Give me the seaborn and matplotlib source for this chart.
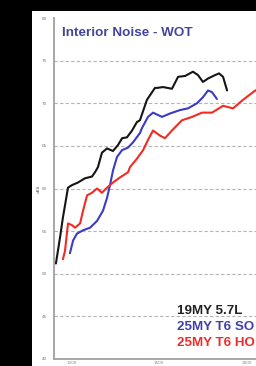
import pandas as pd
import seaborn as sns
import matplotlib.pyplot as plt
from matplotlib.patches import Rectangle

# values (engine speed rpm, interior noise dBA)
black_rpm = [911, 934, 951, 980, 1003, 1037, 1077, 1117, 1134, 1151, 1174, 1203, 1237, 1266,
             1289, 1317, 1346, 1374, 1391, 1431, 1477, 1489, 1523, 1574, 1609, 1649, 1694,
             1723, 1751, 1780, 1820, 1843, 1866, 1889]
black_db = [51.2, 54.2, 56.6, 60.1, 60.4, 60.7, 61.2, 61.4, 61.9, 62.5, 64.2, 64.7, 64.4, 65.1,
            65.9, 66.0, 66.8, 67.8, 68.0, 70.4, 71.8, 71.8, 71.9, 71.7, 73.1, 73.2, 73.7,
            73.3, 72.5, 72.9, 73.3, 73.5, 73.1, 71.5]

blue_rpm = [991, 1009, 1031, 1066, 1106, 1146, 1180, 1203, 1220, 1237, 1260, 1289, 1323, 1351,
            1391, 1403, 1437, 1466, 1517, 1563, 1620, 1666, 1717, 1751, 1780, 1803, 1831]
blue_db = [52.4, 53.9, 54.7, 55.1, 55.4, 56.2, 57.4, 58.9, 60.4, 62.1, 63.7, 64.5, 64.8, 65.4,
           66.5, 67.1, 68.4, 68.9, 68.4, 68.8, 69.2, 69.4, 70.0, 70.7, 71.5, 71.3, 70.5]

red_rpm = [951, 963, 980, 1003, 1020, 1049, 1066, 1089, 1117, 1146, 1174, 1203, 1237, 1277,
           1323, 1334, 1374, 1409, 1437, 1466, 1506, 1534, 1574, 1631, 1689, 1746, 1803,
           1866, 1923, 1980, 2037, 2066]
red_db = [51.7, 52.7, 55.9, 55.7, 55.4, 55.9, 57.4, 59.2, 59.5, 60.0, 59.5, 60.1, 60.7, 61.3,
          61.9, 62.5, 63.5, 64.5, 65.7, 66.8, 66.2, 65.9, 66.8, 68.0, 68.4, 68.9, 68.9,
          69.7, 69.4, 70.4, 71.3, 71.7]

names = ["19MY 5.7L", "25MY T6 SO", "25MY T6 HO"]
line_colors = ["#151515", "#3a3cc4", "#f42a22"]
text_colors = ["#222222", "#4040a8", "#ee2a2a"]

frames = []
for name, xs, ys in zip(names, [black_rpm, blue_rpm, red_rpm], [black_db, blue_db, red_db]):
    frames.append(pd.DataFrame({"rpm": xs, "dBA": ys, "vehicle": name}))
df = pd.concat(frames, ignore_index=True)

sns.set_style("white")
fig = plt.figure(figsize=(2.56, 3.66), dpi=100, facecolor="black")
fig.patches.append(Rectangle((32 / 256, 0), 1, 355 / 366, transform=fig.transFigure,
                             facecolor="white", edgecolor="none", zorder=-1))
ax = fig.add_axes([54 / 256, 7 / 366, 236.25 / 256, 341 / 366])
ax.set_facecolor("none")
ax.set_zorder(2)

sns.lineplot(data=df, x="rpm", y="dBA", hue="vehicle", hue_order=names,
             palette=line_colors, estimator=None, sort=False, linewidth=1.5,
             legend=False, ax=ax)

ax.set_xlim(900, 2250)
ax.set_ylim(40, 80)
ax.set_yticks(range(40, 81, 5))
ax.set_yticklabels([str(v) for v in range(40, 81, 5)], fontsize=3, color="#777777")
ax.grid(axis="y", linestyle=(0, (3, 2)), color="#b4b4b4", linewidth=0.8)
ax.get_ygridlines()[-1].set_visible(False)
ax.tick_params(axis="y", length=4, width=0.9, color="#999999", pad=1)

ax.set_xticks([1100, 1300, 1500, 1700, 1900, 2100])
ax.set_xticks([1000, 1200, 1400, 1600, 1800, 2000, 2200], minor=True)
ax.set_xticklabels([])
ax.tick_params(axis="x", which="major", direction="in", length=7, width=0.9, color="#909090")
ax.tick_params(axis="x", which="minor", direction="in", length=3.6, width=0.9, color="#909090")
for v in [1000, 1500, 2000]:
    ax.text(v, -0.006, str(v), transform=ax.get_xaxis_transform(), ha="center", va="top",
            fontsize=3, color="#888888")

for side in ["top", "right"]:
    ax.spines[side].set_visible(False)
for side in ["left", "bottom"]:
    ax.spines[side].set_color("#a0a0a0")
    ax.spines[side].set_linewidth(1.3)

ax.set_xlabel("")
ax.set_ylabel("dBA", fontsize=3, color="#777777", labelpad=1)

fig.text(62 / 256, 1 - 33 / 366, "Interior Noise - WOT", fontsize=9.7, fontweight="bold",
         family="Liberation Sans", color="#45459a", ha="left", va="center")

for i, (name, c) in enumerate(zip(names, text_colors)):
    fig.text(177 / 256, 1 - (311 + 16 * i) / 366, name, fontsize=9.6, fontweight="bold",
             family="Liberation Sans", color=c, ha="left", va="center")

fig.savefig("out.png", dpi=100, facecolor=fig.get_facecolor())
